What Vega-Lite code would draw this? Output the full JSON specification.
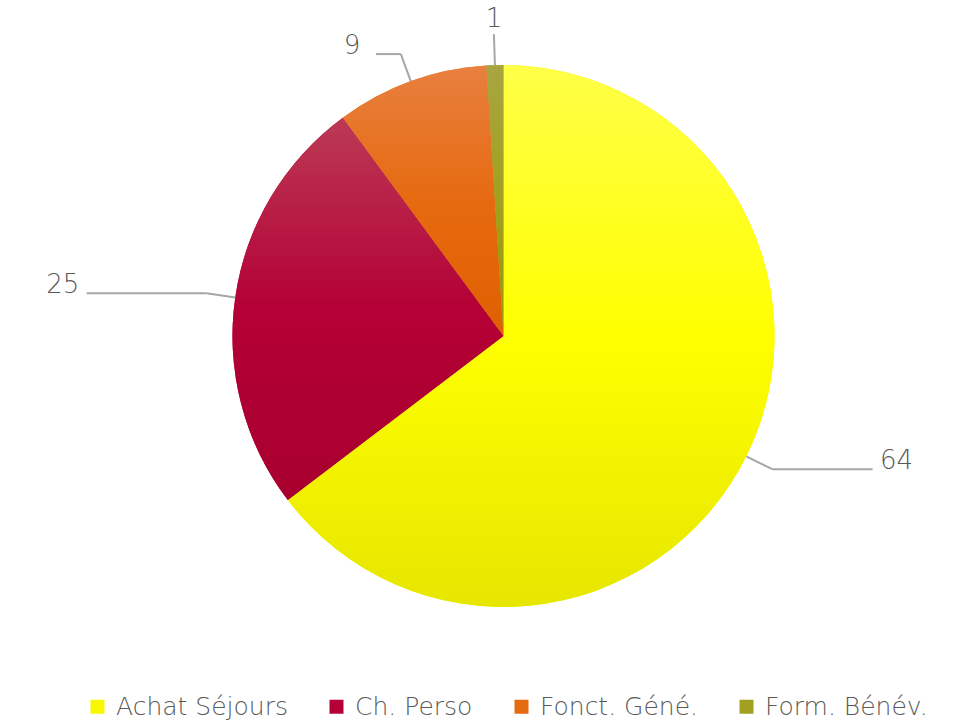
{
  "$schema": "https://vega.github.io/schema/vega-lite/v6.json",
  "width": 929,
  "height": 672,
  "autosize": "none",
  "padding": {"left": 39, "top": 0, "right": 0, "bottom": 49},
  "background": "white",
  "config": {"view": {"stroke": null}},
  "data": {
    "values": [
      {"cat": "Achat Séjours", "value": 64},
      {"cat": "Ch. Perso", "value": 25},
      {"cat": "Fonct. Géné.", "value": 9},
      {"cat": "Form. Bénév.", "value": 1}
    ]
  },
  "layer": [
    {
      "mark": {"type": "arc", "outerRadius": 271},
      "encoding": {
        "theta": {"field": "value", "type": "quantitative", "stack": true},
        "order": {"field": "value", "type": "quantitative", "sort": "descending"},
        "color": {
          "field": "cat",
          "type": "nominal",
          "sort": ["Achat Séjours", "Ch. Perso", "Fonct. Géné.", "Form. Bénév."],
          "scale": {
            "domain": ["Achat Séjours", "Ch. Perso", "Fonct. Géné.", "Form. Bénév."],
            "range": ["#f7f700", "#b40036", "#e66a10", "#a2a020"]
          },
          "legend": {
            "orient": "none",
            "legendX": 46,
            "legendY": 694,
            "direction": "horizontal",
            "title": null,
            "symbolType": "square",
            "symbolSize": 196,
            "symbolStrokeWidth": 0,
            "labelFontSize": 25,
            "labelFont": "DejaVu Sans",
            "labelFontWeight": 200,
            "labelColor": "#595959",
            "labelOffset": 6,
            "labelLimit": 400,
            "columnPadding": 36
          }
        }
      }
    },
    {
      "mark": {"type": "arc", "outerRadius": 271},
      "encoding": {
        "theta": {"field": "value", "type": "quantitative", "stack": true},
        "order": {"field": "value", "type": "quantitative", "sort": "descending"},
        "fill": {
          "condition": [
            {"test": "datum.cat === 'Achat Séjours'", "value": {"gradient": "linear", "x1": 0, "y1": 0, "x2": 0, "y2": 1, "stops": [{"offset": 0, "color": "#ffff48"}, {"offset": 0.5, "color": "#ffff00"}, {"offset": 1, "color": "#e6e600"}]}},
            {"test": "datum.cat === 'Ch. Perso'", "value": {"gradient": "linear", "x1": 0, "y1": 0, "x2": 0, "y2": 1, "stops": [{"offset": 0, "color": "#bb3a55"}, {"offset": 0.5, "color": "#b40036"}, {"offset": 1, "color": "#a8002e"}]}},
            {"test": "datum.cat === 'Fonct. Géné.'", "value": {"gradient": "linear", "x1": 0, "y1": 0, "x2": 0, "y2": 1, "stops": [{"offset": 0, "color": "#e8803f"}, {"offset": 0.5, "color": "#e66a10"}, {"offset": 1, "color": "#e06000"}]}}
          ],
          "value": {"gradient": "linear", "x1": 0, "y1": 0, "x2": 0, "y2": 1, "stops": [{"offset": 0, "color": "#a8a540"}, {"offset": 0.5, "color": "#a2a020"}, {"offset": 1, "color": "#999900"}]}
        }
      }
    },
    {
      "transform": [
        {"window": [{"op": "sum", "field": "value", "as": "cum"}], "frame": [null, 0]},
        {"joinaggregate": [{"op": "sum", "field": "value", "as": "total"}]},
        {"calculate": "(datum.cum - datum.value / 2) / datum.total * 2 * PI", "as": "mid"},
        {"calculate": "abs(sin(datum.mid)) < 0.2", "as": "vert"},
        {"calculate": "sin(datum.mid) >= 0 ? 1 : -1", "as": "side"},
        {"calculate": "271 * sin(datum.mid)", "as": "x1"},
        {"calculate": "271 * cos(datum.mid)", "as": "y1"},
        {"calculate": "(datum.vert ? 302 : 300) * sin(datum.mid)", "as": "x2"},
        {"calculate": "(datum.vert ? 302 : 300) * cos(datum.mid)", "as": "y2"},
        {"calculate": "datum.x2 + (datum.vert ? 0 : datum.side * (12 + 110 * pow(sin(datum.mid), 2)))", "as": "x3"},
        {"calculate": "datum.x3 + (datum.vert ? 0 : datum.side * 24)", "as": "lx"},
        {"calculate": "datum.y2 + (datum.vert ? 15 : 8)", "as": "ly"}
      ],
      "layer": [
        {
          "mark": {"type": "rule", "color": "#a6a6a6", "strokeWidth": 2},
          "encoding": {
            "x": {"field": "x1", "type": "quantitative", "scale": {"domain": [-464.5, 464.5], "nice": false, "zero": false}, "axis": null},
            "y": {"field": "y1", "type": "quantitative", "scale": {"domain": [-336, 336], "nice": false, "zero": false}, "axis": null},
            "x2": {"field": "x2"},
            "y2": {"field": "y2"}
          }
        },
        {
          "mark": {"type": "rule", "color": "#a6a6a6", "strokeWidth": 2},
          "encoding": {
            "x": {"field": "x2", "type": "quantitative"},
            "y": {"field": "y2", "type": "quantitative"},
            "x2": {"field": "x3"},
            "y2": {"field": "y2"}
          }
        },
        {
          "mark": {"type": "text", "font": "DejaVu Sans", "fontWeight": 200, "fontSize": 26, "color": "#595959", "align": "center", "baseline": "middle"},
          "encoding": {
            "x": {"field": "lx", "type": "quantitative"},
            "y": {"field": "ly", "type": "quantitative"},
            "text": {"field": "value", "type": "quantitative"}
          }
        }
      ]
    }
  ]
}
